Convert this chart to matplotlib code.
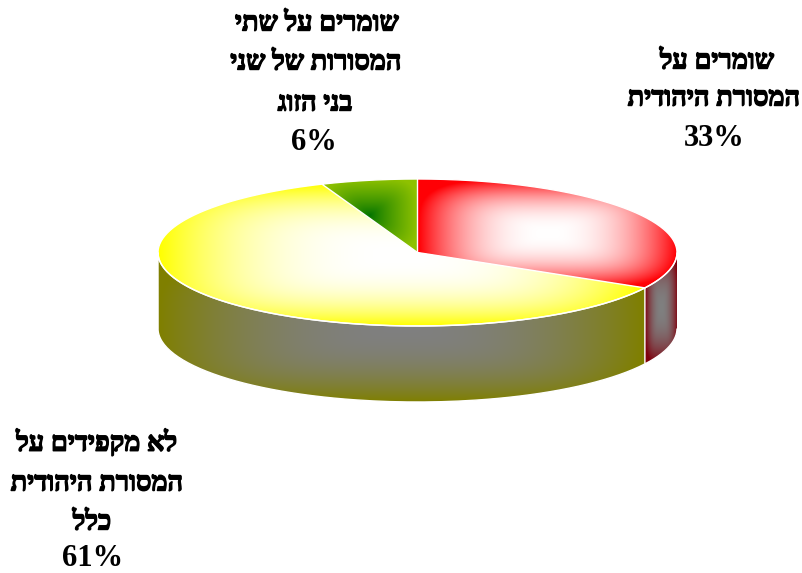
import numpy as np
import matplotlib
matplotlib.use('Agg')
import matplotlib.pyplot as plt
import matplotlib.patheffects as pe
from matplotlib.path import Path
from matplotlib.patches import PathPatch

plt.rcParams['font.family'] = ['Liberation Serif', 'DejaVu Sans']

# slices, clockwise from 12 o'clock
values = [33, 61, 6]
top_inner = [(1, 1, 1), (1, 1, 1), (0, 0.45, 0)]
top_outer = [(1, 0, 0.02), (1, 1, 0), (0.56, 0.76, 0)]
top_gamma = [2.3, 2.6, 0.8]
wall_inner = [(0.5, 0.5, 0.5), (0.5, 0.5, 0.5), None]
wall_outer = [(0.5, 0, 0.05), (0.5, 0.5, 0), None]

label_lines = [
    ['שומרים על', 'המסורת היהודית', '33%'],
    ['לא מקפידים על', 'המסורת היהודית', 'כלל', '61%'],
    ['שומרים על שתי', 'המסורות של שני', 'בני הזוג', '6%'],
]
label_x = [
    [717, 714, 714],
    [97, 97, 92, 93],
    [317, 316, 315, 314],
]
label_y = [
    [62, 99, 138],
    [443, 484, 523, 559],
    [24, 63, 104, 143],
]

cx, cy, a, b, depth = 417.5, 252.5, 259.5, 73.5, 76


def rim(th, dy=0):
    return np.column_stack([cx + a * np.sin(th), cy + dy - b * np.cos(th)])


def grad_fill(ax, pts, inner, outer, gamma=1.5):
    x0, y0 = pts.min(axis=0)
    x1, y1 = pts.max(axis=0)
    u, v = np.meshgrid(np.linspace(-1, 1, 200), np.linspace(-1, 1, 200))
    t = (np.abs(u) ** 4 + np.abs(v) ** 4) ** 0.25
    t = np.clip(t, 0, 1)[..., None] ** gamma
    img = np.array(inner) * (1 - t) + np.array(outer) * t
    im = ax.imshow(img, extent=(x0, x1, y1, y0), aspect='auto', zorder=2, interpolation='bilinear')
    patch = PathPatch(Path(pts), transform=ax.transData, fc='none', ec='none')
    ax.add_patch(patch)
    im.set_clip_path(patch)
    ax.add_patch(PathPatch(Path(pts), fc='none', ec='white', lw=1.0, zorder=3))


fig = plt.figure(figsize=(8.02, 5.73), dpi=100)
ax = fig.add_axes([0, 0, 1, 1])

ends = np.cumsum(values) / np.sum(values) * 2 * np.pi
starts = np.r_[0, ends[:-1]]

for s, e, ci, co, g, wi, wo in zip(starts, ends, top_inner, top_outer, top_gamma, wall_inner, wall_outer):
    # visible side wall is the front half of the rim only
    lo, hi = max(s, np.pi / 2), min(e, 3 * np.pi / 2)
    if wi is not None and hi > lo:
        th = np.linspace(lo, hi, 120)
        wall = np.vstack([rim(th), rim(th[::-1], depth)])
        grad_fill(ax, wall, wi, wo, gamma=2.2)
    th = np.linspace(s, e, 200)
    top = np.vstack([[cx, cy], rim(th)])
    grad_fill(ax, top, ci, co, gamma=g)

for lines, xs, ys in zip(label_lines, label_x, label_y):
    for line, x, y in zip(lines, xs, ys):
        is_pct = line.endswith('%')
        # matplotlib lays text out left to right, so Hebrew goes in reversed
        txt = line if is_pct else line[::-1]
        t = ax.text(x, y, txt, ha='center', va='center', fontweight='bold',
                    fontsize=22 if is_pct else 19.5, color='black', zorder=5)
        if not is_pct:
            t.set_path_effects([pe.withStroke(linewidth=1.0, foreground='black')])

ax.set_xlim(0, 802)
ax.set_ylim(573, 0)
ax.axis('off')
fig.savefig('out.png', dpi=100)
